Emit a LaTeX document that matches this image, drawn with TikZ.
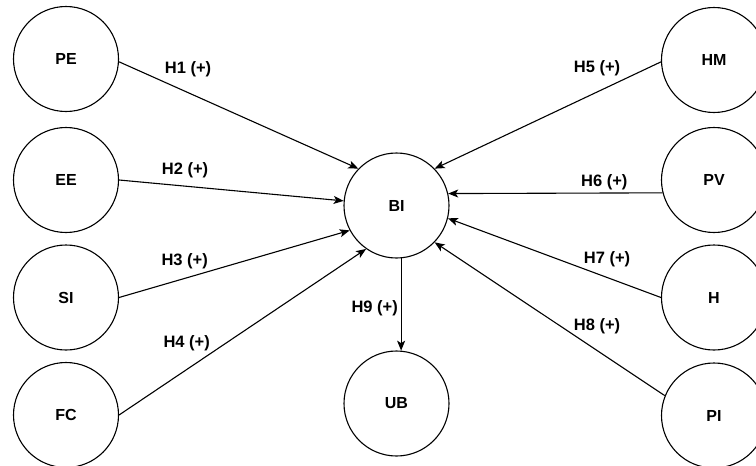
\documentclass[tikz,border=0pt]{standalone}
\usepackage{fontspec}
\setmainfont{Liberation Sans}
\usetikzlibrary{arrows.meta}
\tikzset{
  var/.style={circle, draw=black, line width=1.1pt, minimum size=105pt, inner sep=0pt,
    font=\fontsize{16}{19}\selectfont\bfseries},
  hyp/.style={font=\fontsize{16.5}{19}\selectfont\bfseries, inner sep=0pt},
  link/.style={draw=black, line width=1.1pt, -{Stealth[length=10pt,width=8pt,inset=2.5pt]}}
}
\begin{document}
\begin{tikzpicture}[x=1pt,y=-1pt]
\clip (0,0) rectangle (756,466);
\fill[white] (0,0) rectangle (756,466);
% left column
\node[var] (PE) at (66,59) {PE};
\node[var] (EE) at (66,180) {EE};
\node[var] (SI) at (66,297.5) {SI};
\node[var] (FC) at (66,415) {FC};
% right column
\node[var] (HM) at (714,60) {HM};
\node[var] (PV) at (714,180) {PV};
\node[var] (H) at (714,297.5) {H};
\node[var] (PI) at (714,415.5) {PI};
% centre
\node[var] (BI) at (396.5,205.5) {BI};
\node[var] (UB) at (396.5,403.5) {UB};
% connectors
\draw[link] (PE.-3) -- (BI.136);
\draw[link] (EE.east) -- (BI.175);
\draw[link] (SI.east) -- (BI.208);
\draw[link] (FC.east) -- (BI.235.5);
\draw[link] (HM.182) -- (BI.44.5);
\draw[link] (PV.194) -- (BI.13);
\draw[link] (H.west) -- (BI.-14.5);
\draw[link] (PI.158) -- (BI.-44.3);
\draw[link] (BI.-85) -- (UB.85);
% labels
\node[hyp] (l1) at (188,69.5) {H1 (+)};
\node[hyp] (l2) at (185,170.5) {H2 (+)};
\node[hyp] (l3) at (184.7,261) {H3 (+)};
\node[hyp] (l4) at (186.7,343.3) {H4 (+)};
\node[hyp] (l5) at (597,68) {H5 (+)};
\node[hyp] (l6) at (604.3,182) {H6 (+)};
\node[hyp] (l7) at (607,259.5) {H7 (+)};
\node[hyp] (l8) at (597,326) {H8 (+)};
\node[hyp] (l9) at (374.7,308) {H9 (+)};
\end{tikzpicture}
\end{document}
